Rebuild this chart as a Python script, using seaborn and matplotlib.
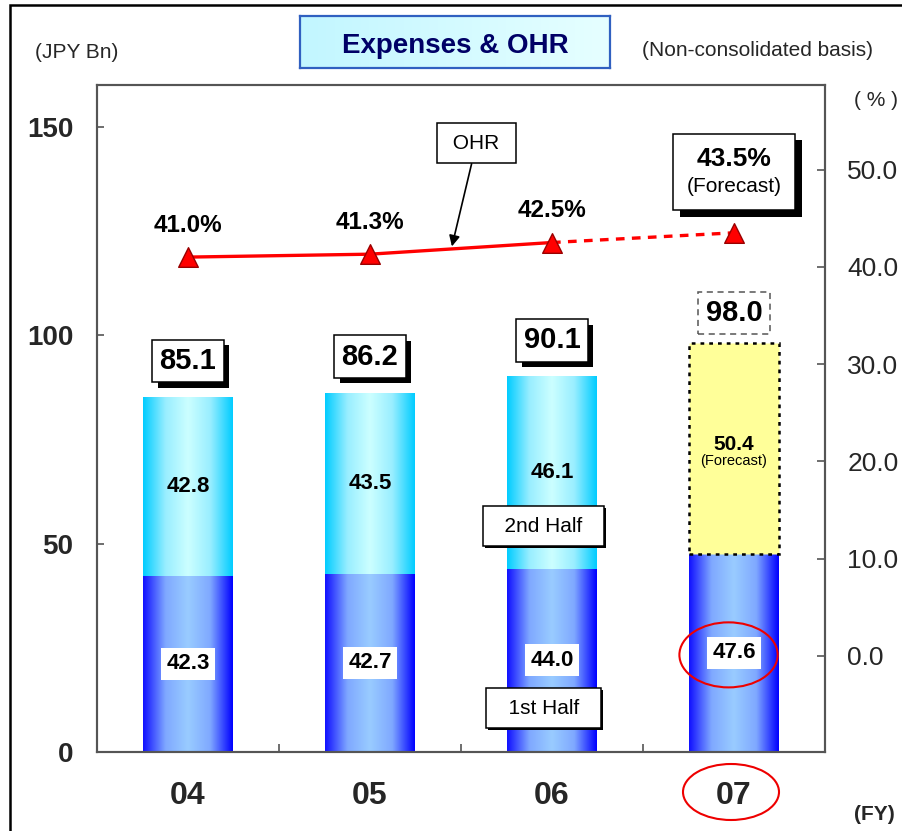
import numpy as np
import pandas as pd
import matplotlib
matplotlib.use("Agg")
import matplotlib.pyplot as plt
import matplotlib.patheffects as pe
import seaborn as sns
from matplotlib.colors import LinearSegmentedColormap
from matplotlib.patches import Rectangle, Ellipse
from matplotlib.offsetbox import TextArea, VPacker, AnnotationBbox

# ---- data -------------------------------------------------------------
years = ["04", "05", "06", "07"]
first_half = [42.3, 42.7, 44.0, 47.6]
second_half = [42.8, 43.5, 46.1, 50.4]
ohr = [41.0, 41.3, 42.5, 43.5]
left_ticks = [0, 50, 100, 150]
right_ticks = [0.0, 10.0, 20.0, 30.0, 40.0, 50.0]

sns.set_theme(style="white")
plt.rcParams["font.family"] = ["Liberation Sans", "DejaVu Sans"]

df = pd.DataFrame({"FY": years, "first": first_half, "second": second_half})
df["total"] = df["first"] + df["second"]
pos = np.arange(len(years))

W, H = 902, 831
fig = plt.figure(figsize=(W / 100, H / 100), dpi=100)
fig.patch.set_facecolor("white")


def fx(px):
    return px / W


def fy(py):
    return 1 - py / H


def drop_shadow(dx, dy):
    return [pe.SimplePatchShadow(offset=(dx, dy), shadow_rgbFace="black",
                                 alpha=1.0), pe.Normal()]


ax = fig.add_axes([fx(97), fy(752), fx(825) - fx(97), fy(85) - fy(752)])

# ---- stacked bars -----------------------------------------------------
bar_w = 0.49
sns.barplot(data=df, x="FY", y="first", order=years, color="#0000FF",
            width=bar_w, errorbar=None, ax=ax, zorder=2)
sns.barplot(data=df, x="FY", y="second", order=years,
            bottom=df["first"].to_numpy(), color="#00CCFF",
            width=bar_w, errorbar=None, ax=ax, zorder=2)

cm_first = LinearSegmentedColormap.from_list(
    "first", ["#1010FF", "#7FA8FF", "#99CCFF", "#7FA8FF", "#0000FF"])
cm_second = LinearSegmentedColormap.from_list(
    "second", ["#00CCFF", "#99EEFF", "#CCFFFF", "#99EEFF", "#00CCFF"])
grad = np.linspace(0, 1, 256).reshape(1, -1)


def fill_gradient(patch, cmap):
    x0, y0 = patch.get_x(), patch.get_y()
    w, h = patch.get_width(), patch.get_height()
    patch.set_facecolor("none")
    patch.set_edgecolor("none")
    img = ax.imshow(grad, cmap=cmap, extent=[x0, x0 + w, y0, y0 + h],
                    aspect="auto", origin="lower", zorder=1.9,
                    interpolation="bicubic")
    img.set_clip_path(patch)


first_bars = ax.containers[0]
second_bars = ax.containers[1]
for p in first_bars:
    fill_gradient(p, cm_first)
for i, p in enumerate(second_bars):
    if i == len(years) - 1:
        # forecast half-year: flat yellow with a dotted outline
        p.set_facecolor("#FFFF99")
        p.set_edgecolor("black")
        p.set_linestyle((0, (1.5, 2.0)))
        p.set_linewidth(1.8)
        p.set_zorder(2.1)
    else:
        fill_gradient(p, cm_second)

ax.set_xlim(-0.5, len(years) - 0.5)
ax.set_ylim(0, 160)
ax.set_xlabel("")
ax.set_ylabel("")

# totals above each bar
for i, tot in enumerate(df["total"]):
    if i == len(years) - 1:
        ax.annotate(f"{tot:.1f}", (i, tot), xytext=(0, 22),
                    textcoords="offset points", ha="center", va="center",
                    fontsize=21, weight="bold", color="black",
                    bbox=dict(boxstyle="square,pad=0.25", fc="white",
                              ec="#555555", lw=1.1, ls=(0, (4, 3))), zorder=7)
    else:
        t = ax.annotate(f"{tot:.1f}", (i, tot), xytext=(0, 26),
                        textcoords="offset points", ha="center", va="center",
                        fontsize=21, weight="bold", color="black",
                        bbox=dict(boxstyle="square,pad=0.25", fc="white",
                                  ec="black", lw=1.1), zorder=7)
        t.get_bbox_patch().set_path_effects(drop_shadow(4, -4))

# values inside the segments
for i, (a, b) in enumerate(zip(first_half, second_half)):
    ax.annotate(f"{a:.1f}", (i, a / 2), ha="center", va="center",
                fontsize=16, weight="bold", color="black",
                bbox=dict(boxstyle="square,pad=0.25", fc="white", ec="none"),
                zorder=6)
    if i == len(years) - 1:
        ax.annotate(f"{b:.1f}", (i, a + b / 2), xytext=(0, 3),
                    textcoords="offset points", ha="center", va="center",
                    fontsize=15, weight="bold", color="black", zorder=6)
        ax.annotate("(Forecast)", (i, a + b / 2), xytext=(0, -9),
                    textcoords="offset points", ha="center", va="center",
                    fontsize=10.5, color="black", zorder=6)
    else:
        ax.annotate(f"{b:.1f}", (i, a + b / 2), ha="center", va="center",
                    fontsize=16, weight="bold", color="black", zorder=6)

# half-year legend boxes
for txt, yv in [("  2nd Half  ", 54.2), ("  1st Half  ", 10.5)]:
    t = ax.text(1.953, yv, txt, ha="center", va="center", fontsize=15,
                color="black",
                bbox=dict(boxstyle="square,pad=0.5", fc="white", ec="black",
                          lw=1.1), zorder=7)
    t.get_bbox_patch().set_path_effects(drop_shadow(1.5, -1.5))

# highlight around the current half-year figure
ax.add_patch(Ellipse((len(years) - 1 - 0.03, first_half[-1] / 2 - 0.5),
                     width=0.54, height=15.6, fill=False, ec="#EE0000",
                     lw=1.5, zorder=8))

# ---- axes styling -----------------------------------------------------
ax.set_yticks(left_ticks)
ax.set_yticklabels([str(t) for t in left_ticks], fontsize=20, weight="bold")
ax.tick_params(axis="y", direction="in", length=5, width=1.2,
               color="#555555", pad=17)
ax.set_xticks(pos)
ax.set_xticklabels(years, fontsize=23, weight="bold")
ax.set_xticks(pos[:-1] + 0.5, minor=True)
ax.tick_params(axis="x", which="major", length=0, pad=21)
ax.tick_params(axis="x", which="minor", direction="in", length=6,
               width=1.2, color="#555555", bottom=True)
for s in ax.spines.values():
    s.set_color("#555555")
    s.set_linewidth(1.5)

# ---- OHR line (right axis) -------------------------------------------
ax2 = ax.twinx()
sns.lineplot(x=pos[:3], y=ohr[:3], color="#FF0000", lw=2.4, ax=ax2, zorder=4)
sns.lineplot(x=pos[2:], y=ohr[2:], color="#FF0000", lw=2.4, ax=ax2,
             linestyle=(0, (2.6, 2.2)), zorder=4)
sns.scatterplot(x=pos, y=ohr, marker="^", s=200, color="#FF0000",
                edgecolor="#990000", linewidth=1, ax=ax2, zorder=5)
ax2.set_xlim(-0.5, len(years) - 0.5)
ax2.set_ylim(-9.9, 58.7)
ax2.set_ylabel("")
ax2.set_yticks(right_ticks)
ax2.set_yticklabels([f"{t:.1f}" for t in right_ticks], fontsize=19)
ax2.tick_params(axis="y", direction="in", length=6, width=1.2,
                color="#555555", pad=16)
for s in ax2.spines.values():
    s.set_color("#555555")
    s.set_linewidth(1.5)

for i, v in enumerate(ohr[:-1]):
    ax2.annotate(f"{v:.1f}%", (i, v), xytext=(0, 23), textcoords="offset points",
                 ha="center", va="center", fontsize=17.5, weight="bold",
                 color="black")

vp = VPacker(children=[
    TextArea(f"{ohr[-1]:.1f}%", textprops=dict(fontsize=19, weight="bold",
                                               color="black")),
    TextArea("(Forecast)", textprops=dict(fontsize=15, color="black")),
], align="center", pad=7, sep=4)
ab = AnnotationBbox(vp, (pos[-1], ohr[-1]), xybox=(0, 44),
                    boxcoords="offset points", frameon=True, pad=0.3,
                    fontsize=10,
                    bboxprops=dict(boxstyle="square", fc="white",
                                   ec="black", lw=1.1), zorder=7)
ab.patch.set_path_effects(drop_shadow(5, -5))
ax2.add_artist(ab)

ax2.annotate(" OHR ", xy=(1.45, 42.1), xytext=(1.585, 52.7), ha="center",
             va="center", fontsize=15, color="black",
             bbox=dict(boxstyle="square,pad=0.5", fc="white", ec="black", lw=1.1),
             arrowprops=dict(arrowstyle="-|>", color="black", lw=1.2,
                             mutation_scale=16, shrinkA=0, shrinkB=0),
             zorder=7)

# ---- figure furniture -------------------------------------------------
tax = fig.add_axes([fx(300), fy(68), fx(610) - fx(300), fy(16) - fy(68)])
tcm = LinearSegmentedColormap.from_list("title", ["#C2F6FF", "#E6FFFF"])
tax.imshow(np.linspace(0, 1, 256).reshape(1, -1), cmap=tcm, aspect="auto",
           extent=[0, 1, 0, 1])
tax.set_xticks([])
tax.set_yticks([])
for s in tax.spines.values():
    s.set_color("#3060C0")
    s.set_linewidth(1.6)
tax.text(0.5, 0.42, "Expenses & OHR", transform=tax.transAxes, ha="center",
         va="center", fontsize=20, weight="bold", color="#000066")

fig.text(fx(77), fy(52), "(JPY Bn)", ha="center", va="center", fontsize=15)
fig.text(fx(757), fy(50), "(Non-consolidated basis)", ha="center",
         va="center", fontsize=15)
fig.text(fx(898), fy(100), "( % )", ha="right", va="center", fontsize=15)
fig.text(fx(874), fy(814), "(FY)", ha="center", va="center", fontsize=15,
         weight="bold")

fig.patches.append(Ellipse((fx(731), fy(792)), width=96 / W, height=56 / H,
                           transform=fig.transFigure, fill=False,
                           ec="#EE0000", lw=1.5))
fig.patches.append(Rectangle((fx(10), fy(900)), 2, fy(5) - fy(900),
                             transform=fig.transFigure, fill=False,
                             ec="black", lw=1.8))

fig.savefig("out.png", dpi=100)
